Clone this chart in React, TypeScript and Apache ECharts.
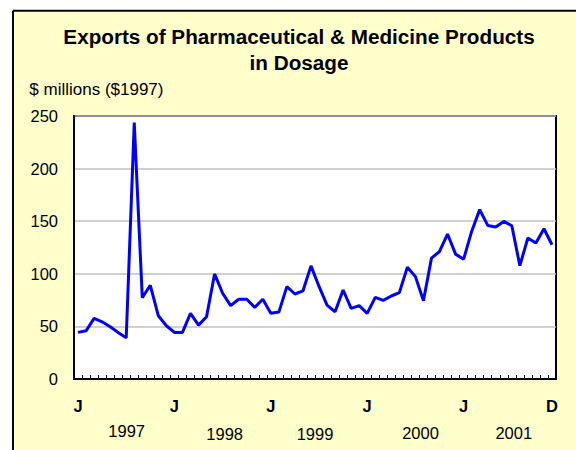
import React, { useEffect, useRef } from "react";
import * as echarts from "echarts";

const monthNames = ["Jan", "Feb", "Mar", "Apr", "May", "Jun", "Jul", "Aug", "Sep", "Oct", "Nov", "Dec"];
const years = [1997, 1998, 1999, 2000, 2001];
const categories: string[] = years.flatMap((y) => monthNames.map((m) => `${m} ${y}`));

const exports1997 = [44.3, 45.8, 57.6, 54.4, 49.6, 44.3, 39.1, 243.7, 77.3, 89.1, 60.1, 50.6];
const exports1998 = [44.3, 44.3, 62.4, 51.2, 59.2, 99.9, 81.5, 69.7, 75.8, 75.8, 68.1, 75.8];
const exports1999 = [62.4, 63.6, 87.8, 80.8, 83.7, 107.5, 88.0, 70.3, 63.9, 84.6, 67.1, 69.7];
const exports2000 = [62.4, 77.6, 74.8, 78.9, 82.1, 106.3, 97.3, 74.4, 114.9, 121.2, 137.8, 118.7];
const exports2001 = [113.9, 140.3, 161.0, 146.0, 144.5, 149.8, 145.7, 107.8, 134.0, 129.2, 142.8, 127.6];
const values = [...exports1997, ...exports1998, ...exports1999, ...exports2000, ...exports2001];

const yTicks = [0, 50, 100, 150, 200, 250];
const yearLabels = ["1997", "1998", "1999", "2000", "2001"];
const yearLabelX = [126.7, 224.7, 315, 420.5, 513.8];
const yearLabelY = [430.7, 434, 434, 433.3, 433.3];

const titleText = "Exports of Pharmaceutical & Medicine Products\nin Dosage";
const unitText = "$ millions ($1997)";

const FONT = "Arial, 'Liberation Sans', sans-serif";

export default function App() {
  const ref = useRef<HTMLDivElement>(null);
  useEffect(() => {
    if (!ref.current) return;
    const chart = echarts.init(ref.current, null, { renderer: "svg" });
    const lastIdx = categories.length - 1;
    chart.setOption({
      animation: false,
      backgroundColor: "#FFFFCC",
      title: {
        text: titleText,
        left: 299,
        top: 23,
        padding: 0,
        textAlign: "center",
        textStyle: {
          fontFamily: FONT,
          fontSize: 20.7,
          fontWeight: "bold",
          color: "#000",
          lineHeight: 26,
        },
      },
      grid: {
        left: 74,
        right: 20,
        top: 116,
        bottom: 71,
        show: true,
        backgroundColor: "#FFFFFF",
        borderColor: "#000",
        borderWidth: 2,
      },
      xAxis: {
        type: "category",
        data: categories,
        boundaryGap: true,
        axisLine: { show: true, lineStyle: { color: "#000", width: 2 } },
        axisTick: { show: true, inside: true, length: 4, interval: 0, lineStyle: { color: "#000", width: 1 } },
        axisLabel: {
          interval: (i: number) => i % 12 === 0 || i === lastIdx,
          formatter: (v: string) => v.charAt(0),
          margin: 18,
          fontFamily: FONT,
          fontSize: 16.5,
          fontWeight: "bold",
          color: "#000",
        },
        splitLine: { show: false },
      },
      yAxis: {
        type: "value",
        min: yTicks[0],
        max: yTicks[yTicks.length - 1],
        interval: 50,
        axisLine: { show: true, lineStyle: { color: "#000", width: 2 } },
        axisTick: { show: false },
        axisLabel: { margin: 16, fontFamily: FONT, fontSize: 16.5, color: "#000" },
        splitLine: { show: true, lineStyle: { color: "#C0C0C0", width: 1.5 } },
      },
      series: [
        {
          type: "line",
          data: values,
          symbol: "none",
          lineStyle: { color: "#0000FF", width: 3 },
          itemStyle: { color: "#0000FF" },
        },
      ],
      graphic: [
        { type: "rect", shape: { x: 0, y: 0, width: 576, height: 10.7 }, style: { fill: "#FFFFFF" }, silent: true },
        { type: "rect", shape: { x: 0, y: 0, width: 13, height: 450 }, style: { fill: "#FFFFFF" }, silent: true },
        { type: "line", shape: { x1: 13, y1: 10.7, x2: 576, y2: 10.7 }, style: { stroke: "#000", lineWidth: 2 }, silent: true },
        { type: "line", shape: { x1: 13, y1: 10.7, x2: 13, y2: 450 }, style: { stroke: "#000", lineWidth: 2 }, silent: true },
        {
          type: "text",
          x: 29.3,
          y: 89.3,
          style: { text: unitText, font: `17px ${FONT}`, fill: "#000", textAlign: "left", textVerticalAlign: "middle" },
        },
        ...yearLabels.map((t, i) => ({
          type: "text",
          x: yearLabelX[i],
          y: yearLabelY[i],
          style: { text: t, font: `16.5px ${FONT}`, fill: "#000", textAlign: "center", textVerticalAlign: "middle" },
        })),
      ],
    });
    return () => chart.dispose();
  }, []);
  return (
    <div
      ref={ref}
      style={{ position: "absolute", left: 0, top: 0, width: 576, height: 450 }}
    />
  );
}
